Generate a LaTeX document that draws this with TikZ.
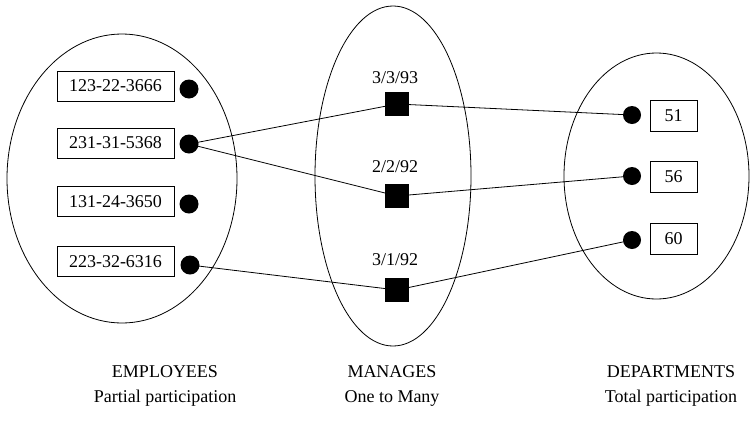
\documentclass[tikz,border=0pt]{standalone}
\usepackage{fontspec}
\setmainfont{Liberation Serif}
\begin{document}
\begin{tikzpicture}[x=1pt,y=-1pt,
  lbl/.style={font=\fontsize{18}{20}\selectfont, inner sep=0pt},
  captxt/.style={font=\fontsize{18}{20}\selectfont, inner sep=0pt, anchor=base},
  keybox/.style={draw, line width=0.8pt, minimum width=117pt, minimum height=30pt, inner sep=0pt, font=\fontsize{18}{20}\selectfont},
  depbox/.style={draw, line width=0.8pt, minimum width=47pt, minimum height=31pt, inner sep=0pt, font=\fontsize{18}{20}\selectfont},
  dot/.style={circle, fill=black, minimum size=19pt, inner sep=0pt},
  rdot/.style={circle, fill=black, minimum size=18pt, inner sep=0pt},
  sq/.style={rectangle, fill=black, minimum size=24pt, inner sep=0pt},
  conn/.style={line width=0.8pt},
  setline/.style={line width=0.8pt}]
\useasboundingbox (0,0) rectangle (750,421);
% sets
\draw[setline] (122,178.5) ellipse [x radius=115, y radius=144.5];
\draw[setline] (393,176) ellipse [x radius=78, y radius=170];
\draw[setline] (656.5,176) ellipse [x radius=92.5, y radius=123];
% employees
\node[keybox] (e1) at (115.5,86) {123-22-3666};
\node[keybox] (e2) at (115.5,143) {231-31-5368};
\node[keybox] (e3) at (115.5,201.5) {131-24-3650};
\node[keybox] (e4) at (115.5,261.5) {223-32-6316};
\node[dot] (d1) at (189,89) {};
\node[dot] (d2) at (189,144) {};
\node[dot] (d3) at (189,204) {};
\node[dot] (d4) at (190,265) {};
% manages
\node[sq] (s1) at (397,104) {};
\node[sq] (s2) at (397,196) {};
\node[sq] (s3) at (397,290) {};
\node[lbl] (t1) at (395,78) {3/3/93};
\node[lbl] (t2) at (395,167) {2/2/92};
\node[lbl] (t3) at (395,260) {3/1/92};
% departments
\node[rdot] (r1) at (632,115) {};
\node[rdot] (r2) at (632,176) {};
\node[rdot] (r3) at (632,240) {};
\node[depbox] (b1) at (673.5,115.5) {51};
\node[depbox] (b2) at (673.5,177) {56};
\node[depbox] (b3) at (673.5,238.5) {60};
% connectors
\draw[conn] (d2.center) -- (s1.center);
\draw[conn] (d2.center) -- (s2.center);
\draw[conn] (d4.center) -- (s3.center);
\draw[conn] (s1.center) -- (r1.center);
\draw[conn] (s2.center) -- (r2.center);
\draw[conn] (s3.center) -- (r3.center);
% captions
\node[captxt] (c1) at (165,377) {EMPLOYEES};
\node[captxt] (c2) at (165,402) {Partial participation};
\node[captxt] (c3) at (392,377) {MANAGES};
\node[captxt] (c4) at (392,402) {One to Many};
\node[captxt] (c5) at (671,377) {DEPARTMENTS};
\node[captxt] (c6) at (671,402) {Total participation};
\end{tikzpicture}
\end{document}
